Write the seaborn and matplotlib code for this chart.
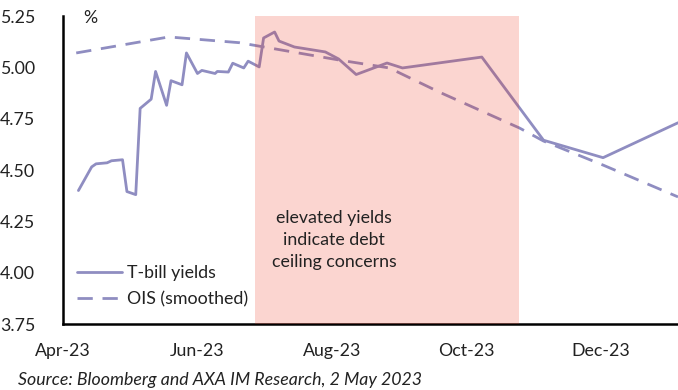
import matplotlib
matplotlib.use("Agg")
import matplotlib.pyplot as plt
import seaborn as sns
import pandas as pd

# T-bill yields (by date)
tbill_dates = ["2023-04-08", "2023-04-14", "2023-04-16", "2023-04-21", "2023-04-23",
               "2023-04-28", "2023-04-30", "2023-05-04", "2023-05-06", "2023-05-11",
               "2023-05-13", "2023-05-18", "2023-05-20", "2023-05-25", "2023-05-27",
               "2023-06-01", "2023-06-03", "2023-06-09", "2023-06-10", "2023-06-15",
               "2023-06-17", "2023-06-22", "2023-06-24", "2023-06-29", "2023-07-01",
               "2023-07-06", "2023-07-08", "2023-07-15", "2023-07-29", "2023-08-04",
               "2023-08-12", "2023-08-26", "2023-09-02", "2023-10-08", "2023-11-05",
               "2023-12-02", "2023-12-31", "2024-01-05"]
tbill_values = [4.40, 4.515, 4.53, 4.535, 4.545,
                4.55, 4.395, 4.38, 4.80, 4.845,
                4.98, 4.815, 4.935, 4.915, 5.07,
                4.97, 4.985, 4.97, 4.98, 4.977,
                5.02, 4.997, 5.03, 5.002, 5.143,
                5.172, 5.128, 5.099, 5.075, 5.041,
                4.965, 5.021, 4.997, 5.050, 4.645,
                4.56, 4.705, 4.73]

# OIS (smoothed)
ois_dates = ["2023-04-07", "2023-05-19", "2023-06-20", "2023-08-04", "2023-08-27",
             "2023-09-19", "2023-10-25", "2023-11-05", "2023-12-02", "2024-01-05"]
ois_values = [5.07, 5.148, 5.12, 5.036, 4.997, 4.878, 4.705, 4.641, 4.524, 4.369]

series_names = ["T-bill yields", "OIS (smoothed)"]
y_ticks = [3.75, 4.00, 4.25, 4.50, 4.75, 5.00, 5.25]
x_tick_dates = ["2023-04-01", "2023-06-01", "2023-08-01", "2023-10-01", "2023-12-01"]
x_tick_labels = ["Apr-23", "Jun-23", "Aug-23", "Oct-23", "Dec-23"]
shade_start, shade_end = "2023-06-27", "2023-10-25"
annotation = "elevated yields\nindicate debt\nceiling concerns"
source = "Source: Bloomberg and AXA IM Research, 2 May 2023"

df = pd.concat([
    pd.DataFrame({"date": pd.to_datetime(tbill_dates), "value": tbill_values, "series": series_names[0]}),
    pd.DataFrame({"date": pd.to_datetime(ois_dates), "value": ois_values, "series": series_names[1]}),
])

sns.set_theme(style="white")
plt.rcParams["font.family"] = ["Lato", "DejaVu Sans"]

FS = 12.75
TXT = "#222222"

fig = plt.figure(figsize=(6.78, 3.90), dpi=100)
ax = fig.add_axes([63 / 678, 1 - 324 / 390, 1 - 63 / 678, (324 - 16) / 390])

line_color = "#8F8DC1"
sns.lineplot(data=df, x="date", y="value", hue="series", style="series",
             palette=[line_color, line_color],
             dashes={series_names[0]: "", series_names[1]: (5.5, 3.5)},
             linewidth=2.0, ax=ax, sort=False, legend=True)

ax.axvspan(pd.Timestamp(shade_start), pd.Timestamp(shade_end), ymin=0, ymax=1,
           color="#EB2D14", alpha=0.2, lw=0, zorder=5)

ax.text(pd.Timestamp("2023-08-02"), 4.16, annotation, ha="center", va="center",
        fontsize=FS, color=TXT, linespacing=1.44, zorder=6)

ax.set_xlim(pd.Timestamp("2023-04-01"), pd.Timestamp("2024-01-05"))
ax.set_ylim(3.75, 5.25)
ax.set_yticks(y_ticks)
ax.set_yticklabels([f"{v:.2f}" for v in y_ticks])
ax.set_xticks(pd.to_datetime(x_tick_dates))
ax.set_xticklabels(x_tick_labels)
ax.set_xlabel("")
ax.set_ylabel("")

for s in ["top", "right"]:
    ax.spines[s].set_visible(False)
for s in ["left", "bottom"]:
    ax.spines[s].set_color("black")
    ax.spines[s].set_linewidth(1.8)
ax.tick_params(axis="both", direction="in", length=5, width=1.8, color="black",
               labelsize=FS, labelcolor=TXT)
ax.tick_params(axis="y", pad=20)
ax.tick_params(axis="x", pad=14)

ax.text(27 / 615, 0.995, "%", transform=ax.transAxes, fontsize=FS, color=TXT,
        ha="center", va="center")

leg = ax.legend(loc="center left", bbox_to_anchor=(14 / 615, 0.123), frameon=False,
                fontsize=FS, handlelength=2.55, handletextpad=0.25,
                labelspacing=0.58, borderpad=0, borderaxespad=0)
for t in leg.get_texts():
    t.set_color(TXT)

fig.text(18 / 678, 1 - 380 / 390, source, fontsize=FS, style="italic",
         color=TXT, ha="left", va="center")

fig.savefig("out.png", dpi=100)
